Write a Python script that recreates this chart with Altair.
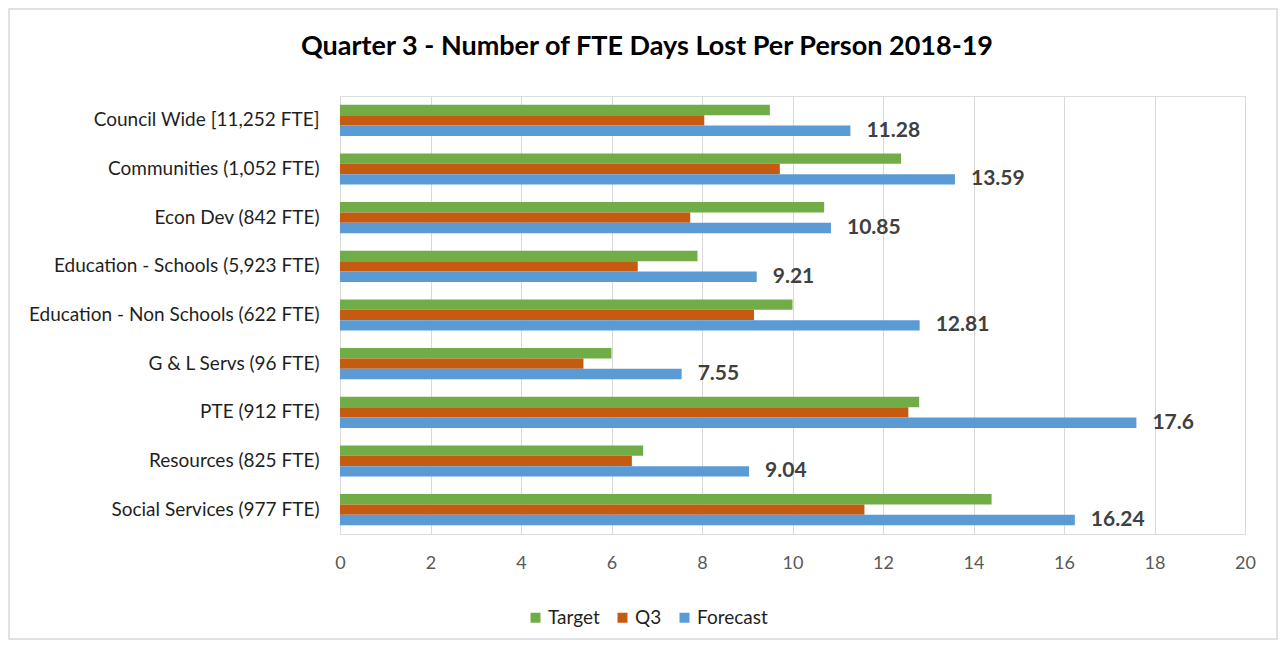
import altair as alt
import pandas as pd

title_text = "Quarter 3 - Number of FTE Days Lost Per Person 2018-19"
categories = [
    "Council Wide [11,252 FTE]",
    "Communities (1,052 FTE)",
    "Econ Dev (842 FTE)",
    "Education - Schools (5,923 FTE)",
    "Education - Non Schools (622 FTE)",
    "G & L Servs (96 FTE)",
    "PTE (912 FTE)",
    "Resources (825 FTE)",
    "Social Services (977 FTE)",
]
series = ["Target", "Q3", "Forecast"]
target = [9.5, 12.4, 10.7, 7.9, 10.0, 6.0, 12.8, 6.7, 14.4]
q3 = [8.05, 9.72, 7.74, 6.58, 9.15, 5.38, 12.56, 6.45, 11.59]
forecast = [11.28, 13.59, 10.85, 9.21, 12.81, 7.55, 17.6, 9.04, 16.24]
colors = ["#70AD47", "#C55A11", "#5B9BD5"]
x_ticks = [0, 2, 4, 6, 8, 10, 12, 14, 16, 18, 20]

rows = []
for name, vals in zip(series, [target, q3, forecast]):
    for c, v in zip(categories, vals):
        rows.append({"category": c, "series": name, "value": v})
df = pd.DataFrame(rows)

FONT = "Lato"
W, H = 905, 438
TOTAL_W, TOTAL_H = 1270, 632
PAD_L, PAD_T = 332, 88

y_enc = alt.Y(
    "category:N",
    sort=categories,
    title=None,
    scale=alt.Scale(paddingInner=0.36, paddingOuter=0.18),
    axis=alt.Axis(
        domain=False, ticks=False, labelPadding=21, labelFontSize=19,
        labelColor="#1F1F1F", labelFont=FONT, labelLimit=400,
    ),
)
yoff_enc = alt.YOffset("series:N", sort=series, scale=alt.Scale(domain=series))
x_enc = alt.X(
    "value:Q",
    title=None,
    scale=alt.Scale(domain=[0, 20], nice=False),
    axis=alt.Axis(
        values=x_ticks, grid=True, gridColor="#D9D9D9", gridWidth=1,
        domain=False, ticks=False, labelPadding=20, labelFontSize=18,
        labelColor="#595959", labelFont=FONT, labelFlush=False,
    ),
)

bars = alt.Chart(df).mark_bar(height={"band": 1}).encode(
    y=y_enc,
    yOffset=yoff_enc,
    x=x_enc,
    color=alt.Color(
        "series:N",
        sort=series,
        scale=alt.Scale(domain=series, range=colors),
        legend=alt.Legend(
            title=None, orient="none", direction="horizontal",
            legendX=186, legendY=512, symbolType="square", symbolSize=100,
            symbolStrokeWidth=0, labelFontSize=19, labelColor="#1F1F1F",
            labelFont=FONT, columnPadding=13, labelOffset=3,
        ),
    ),
)

labels = alt.Chart(df[df["series"] == "Forecast"]).mark_text(
    align="left", baseline="middle", dx=16, fontSize=21, fontWeight="bold",
    color="#404040", font=FONT,
).encode(
    y=alt.Y("category:N", sort=categories),
    yOffset=yoff_enc,
    x=alt.X("value:Q"),
    text=alt.Text("value:Q"),
)

border = alt.Chart(pd.DataFrame({"v": [0]})).mark_rect(
    fill=None, stroke="#D9D9D9", strokeWidth=1.5
).encode(
    x=alt.value(-PAD_L + 1), x2=alt.value(TOTAL_W - PAD_L - 1),
    y=alt.value(-PAD_T + 1), y2=alt.value(TOTAL_H - PAD_T - 1),
)

title = alt.Chart(pd.DataFrame({"t": [title_text]})).mark_text(
    align="center", baseline="middle", fontSize=27, fontWeight="bold",
    font=FONT, color="#000000",
).encode(
    text="t:N",
    x=alt.value(307),
    y=alt.value(-49),
)

chart = alt.layer(border, title, bars, labels).properties(
    width=W,
    height=H,
    autosize=alt.AutoSizeParams(type="none"),
    padding={"left": PAD_L, "top": PAD_T, "right": TOTAL_W - PAD_L - W,
             "bottom": TOTAL_H - PAD_T - H},
).configure_view(stroke=None).configure(background="white")

chart.save("out.html", embed_options={"renderer": "svg", "actions": False})
